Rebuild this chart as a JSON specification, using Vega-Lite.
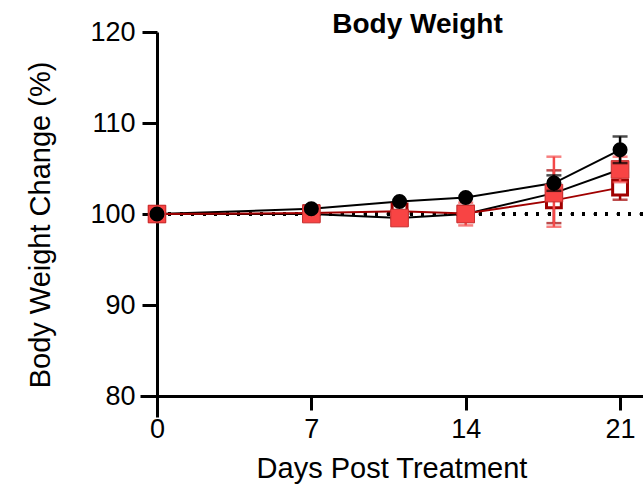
{
  "$schema": "https://vega.github.io/schema/vega-lite/v6.json",
  "width": 503,
  "height": 385,
  "autosize": "none",
  "padding": {"left": 140, "top": 32, "right": 0, "bottom": 72},
  "background": "white",
  "config": {
    "font": "Liberation Sans",
    "view": {"stroke": null},
    "axis": {"grid": false, "domainColor": "black", "domainWidth": 3, "tickColor": "black", "tickWidth": 3, "labelColor": "black", "titleColor": "black", "labelFont": "Liberation Sans", "titleFont": "Liberation Sans", "titleFontWeight": "normal"}
  },
  "title": {"text": "Body Weight", "fontSize": 28, "fontWeight": "bold", "font": "Liberation Sans", "color": "black", "anchor": "middle", "frame": "group", "dx": 26, "dy": 43, "baseline": "alphabetic", "offset": 0},
  "data": {"values": [
    {"series": "A", "day": 0, "mean": 100.0},
    {"series": "A", "day": 7, "mean": 100.58},
    {"series": "A", "day": 11, "mean": 101.38},
    {"series": "A", "day": 14, "mean": 101.82},
    {"series": "A", "day": 18, "mean": 103.4, "lo": 102.55, "hi": 104.25},
    {"series": "A", "day": 21, "mean": 107.06, "lo": 105.6, "hi": 108.52},
    {"series": "B", "day": 0, "mean": 100.0},
    {"series": "B", "day": 7, "mean": 100.0},
    {"series": "B", "day": 11, "mean": 99.56},
    {"series": "B", "day": 14, "mean": 100.0, "lo": 98.75, "hi": 101.25},
    {"series": "B", "day": 18, "mean": 102.3, "lo": 98.6, "hi": 106.3},
    {"series": "B", "day": 21, "mean": 104.9, "lo": 103.5, "hi": 106.3},
    {"series": "C", "day": 0, "mean": 100.0},
    {"series": "C", "day": 7, "mean": 100.1},
    {"series": "C", "day": 11, "mean": 100.3},
    {"series": "C", "day": 14, "mean": 100.05},
    {"series": "C", "day": 18, "mean": 101.5, "lo": 99.0, "hi": 104.8},
    {"series": "C", "day": 21, "mean": 102.9, "lo": 101.57, "hi": 104.2}
  ]},
  "encoding": {
    "x": {"field": "day", "type": "quantitative",
      "scale": {"domain": [-0.77, 22.04], "nice": false, "zero": false},
      "axis": {"values": [0, 7, 14, 21], "offset": -21, "tickSize": 14, "labelFontSize": 27, "labelPadding": 6, "title": "Days Post Treatment", "titleFontSize": 29, "titlePadding": 12}},
    "y": {"field": "mean", "type": "quantitative",
      "scale": {"domain": [77.7, 120], "nice": false, "zero": false},
      "axis": {"values": [80, 90, 100, 110, 120], "offset": -17, "tickSize": 15, "labelFontSize": 27, "labelPadding": 7, "title": "Body Weight Change (%)", "titleFontSize": 29, "titlePadding": 34}}
  },
  "layer": [
    {
      "mark": {"type": "rule", "color": "black", "strokeWidth": 3, "strokeDash": [2.5, 9], "strokeCap": "butt"},
      "encoding": {"x": {"datum": 0}, "x2": {"datum": 22.04}, "y": {"datum": 100}}
    },
    {
      "mark": {"type": "line", "strokeWidth": 2},
      "encoding": {
        "detail": {"field": "series"},
        "stroke": {"field": "series", "type": "nominal", "scale": {"domain": ["A", "B", "C"], "range": ["black", "black", "#a00000"]}, "legend": null}
      }
    },
    {
      "transform": [{"filter": "datum.series == 'C' && datum.lo != null"}],
      "mark": {"type": "rule", "strokeWidth": 2.5, "color": "#a00000"},
      "encoding": {"y": {"field": "lo", "type": "quantitative"}, "y2": {"field": "hi"}}
    },
    {
      "transform": [{"filter": "datum.series == 'C' && datum.lo != null"}],
      "mark": {"type": "tick", "orient": "horizontal", "size": 15, "thickness": 2.5, "color": "#a00000"},
      "encoding": {"y": {"field": "lo", "type": "quantitative"}}
    },
    {
      "transform": [{"filter": "datum.series == 'C' && datum.lo != null"}],
      "mark": {"type": "tick", "orient": "horizontal", "size": 15, "thickness": 2.5, "color": "#a00000"},
      "encoding": {"y": {"field": "hi", "type": "quantitative"}}
    },
    {
      "transform": [{"filter": "datum.series == 'C'"}],
      "mark": {"type": "point", "shape": "square", "filled": true, "size": 220, "fill": "white", "stroke": "#a00000", "strokeWidth": 3, "opacity": 1}
    },
    {
      "transform": [{"filter": "datum.series == 'B' && datum.lo != null"}],
      "mark": {"type": "rule", "strokeWidth": 2.5, "color": "#f44848"},
      "encoding": {"y": {"field": "lo", "type": "quantitative"}, "y2": {"field": "hi"}}
    },
    {
      "transform": [{"filter": "datum.series == 'B' && datum.lo != null"}],
      "mark": {"type": "tick", "orient": "horizontal", "size": 15, "thickness": 2.5, "color": "#f44848"},
      "encoding": {"y": {"field": "lo", "type": "quantitative"}}
    },
    {
      "transform": [{"filter": "datum.series == 'B' && datum.lo != null"}],
      "mark": {"type": "tick", "orient": "horizontal", "size": 15, "thickness": 2.5, "color": "#f44848"},
      "encoding": {"y": {"field": "hi", "type": "quantitative"}}
    },
    {
      "transform": [{"filter": "datum.series == 'B'"}],
      "mark": {"type": "point", "shape": "square", "filled": true, "size": 310, "fill": "#f84444", "stroke": "#c83030", "strokeWidth": 1, "opacity": 1}
    },
    {
      "transform": [{"filter": "datum.series == 'A' && datum.lo != null"}],
      "mark": {"type": "rule", "strokeWidth": 2.5, "color": "black"},
      "encoding": {"y": {"field": "lo", "type": "quantitative"}, "y2": {"field": "hi"}}
    },
    {
      "transform": [{"filter": "datum.series == 'A' && datum.lo != null"}],
      "mark": {"type": "tick", "orient": "horizontal", "size": 15, "thickness": 2.5, "color": "black"},
      "encoding": {"y": {"field": "lo", "type": "quantitative"}}
    },
    {
      "transform": [{"filter": "datum.series == 'A' && datum.lo != null"}],
      "mark": {"type": "tick", "orient": "horizontal", "size": 15, "thickness": 2.5, "color": "black"},
      "encoding": {"y": {"field": "hi", "type": "quantitative"}}
    },
    {
      "transform": [{"filter": "datum.series == 'A'"}],
      "mark": {"type": "point", "shape": "circle", "filled": true, "size": 227, "fill": "black", "opacity": 1}
    }
  ]
}
